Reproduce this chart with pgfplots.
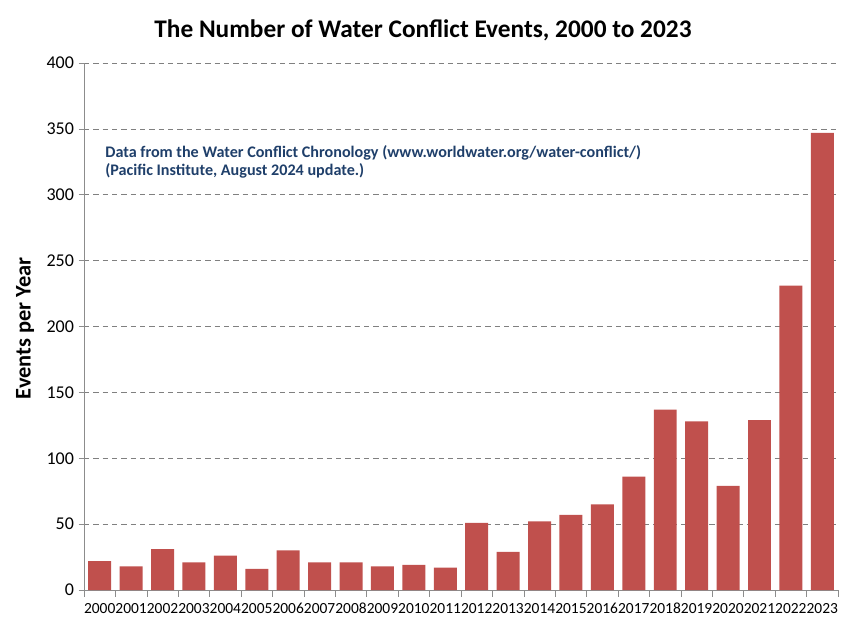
\documentclass[border=0pt]{standalone}
\usepackage{pgfplots}
\pgfplotsset{compat=1.18}
\usepackage{fontspec}
\setmainfont{Carlito}
\definecolor{barred}{HTML}{C0504D}
\definecolor{notecol}{HTML}{1F3F6A}
\definecolor{axgray}{HTML}{8C8C8C}
\begin{document}
\begin{tikzpicture}
\begin{axis}[
    at={(0,0)}, anchor=south west,
    scale only axis,
    width=565.5pt, height=395.25pt,
    xmin=-0.5, xmax=23.5,
    ymin=0, ymax=400,
    ytick={0,50,...,400},
    xtick={0,1,...,23},
    xticklabels={2000,2001,2002,2003,2004,2005,2006,2007,2008,2009,2010,2011,2012,2013,2014,2015,2016,2017,2018,2019,2020,2021,2022,2023},
    minor xtick={-0.5,0.5,...,23.5},
    major x tick style={draw=none},
    minor tick length=5pt,
    major tick length=4pt,
    tick align=outside,
    tick style={axgray, thin},
    axis x line*=bottom, axis y line*=left,
    axis line style={axgray, thin, -},
    ymajorgrids,
    grid style={gray, dash pattern=on 4pt off 3pt, thin},
    /pgf/number format/assume math mode=true,
    xticklabel style={font=\fontsize{11.6pt}{12pt}\selectfont, inner xsep=0pt, text height=8pt, text depth=0pt, yshift=-2pt},
    yticklabel style={font=\fontsize{13.5pt}{14pt}\selectfont},
    ylabel={\bfseries Events per Year},
    ylabel style={font=\fontsize{16.8pt}{18pt}\selectfont, at={(axis description cs:-0.078,0.497)}, anchor=center},
    clip=false,
]
\addplot[ybar, bar width=0.73, fill=barred, draw=none] coordinates {
(0,22) (1,18) (2,31) (3,21) (4,26) (5,16) (6,30) (7,21) (8,21) (9,18)
(10,19) (11,17) (12,51) (13,29) (14,52) (15,57) (16,65) (17,86)
(18,137) (19,128) (20,79) (21,129) (22,231) (23,347)
};
\node[anchor=north west, align=left, text=notecol, font=\bfseries\fontsize{12.1pt}{13.5pt}\selectfont, inner sep=0pt]
  at (rel axis cs:0.028,0.843) {Data from the Water Conflict Chronology (www.worldwater.org/water-conflict/)\\(Pacific Institute, August 2024 update.)};
\end{axis}
\node[font=\bfseries\fontsize{19pt}{22pt}\selectfont] at (254.25pt,420pt) {The Number of Water Conflict Events, 2000 to 2023};
\path[use as bounding box] (-63pt,-27.75pt) rectangle (583.5pt,442.5pt);
\end{tikzpicture}
\end{document}
